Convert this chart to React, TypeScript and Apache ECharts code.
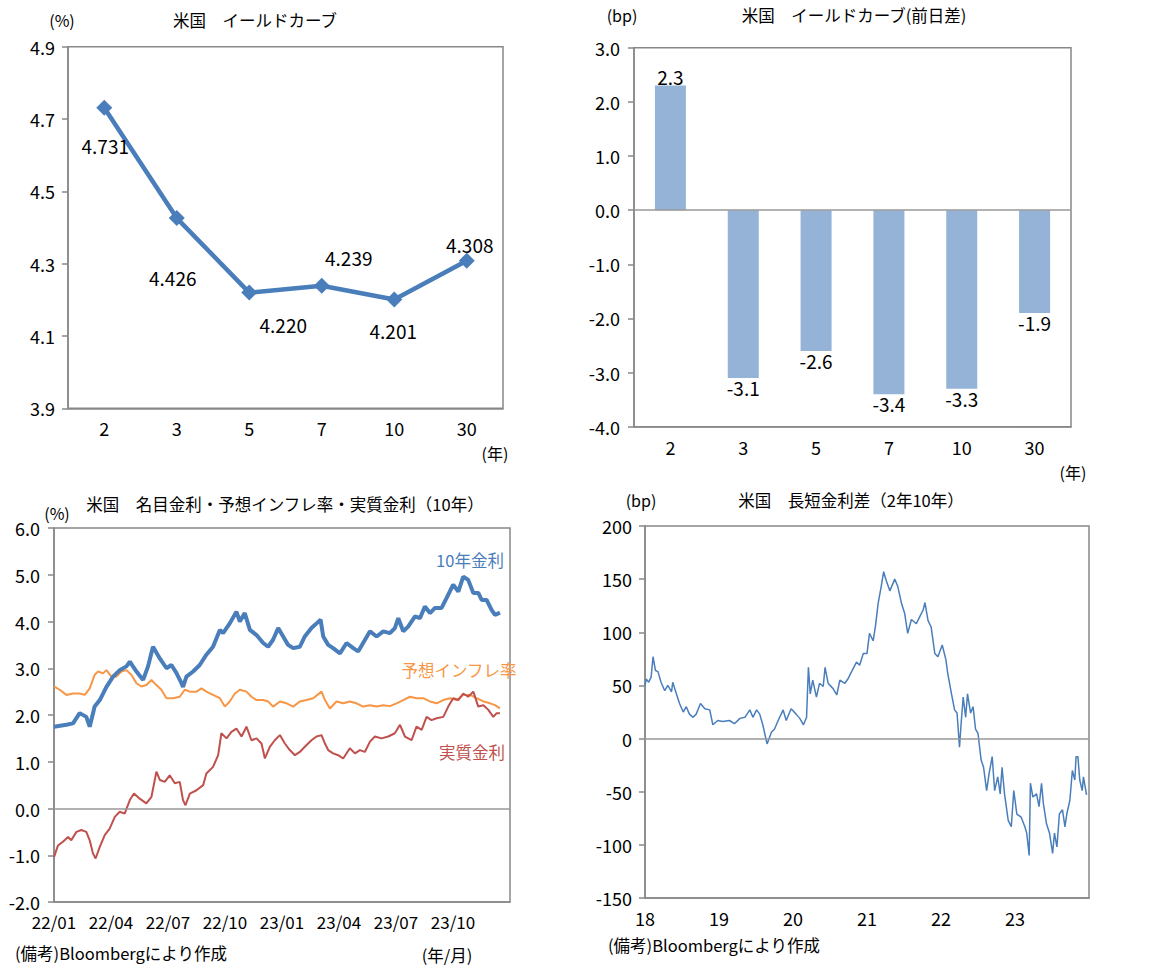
import React, { useEffect, useRef } from 'react';
import * as echarts from 'echarts';

// ---- Chart 1: US yield curve (%) ----
const tenors = ['2', '3', '5', '7', '10', '30'];
const yieldCurve = [4.731, 4.426, 4.22, 4.239, 4.201, 4.308];
const yieldCurveLabelOffsets = [[1, 38], [-4, 59], [34, 32], [27, -28], [-1, 31], [3, -16]];

// ---- Chart 2: day-on-day change (bp) ----
const yieldChange = [2.3, -3.1, -2.6, -3.4, -3.3, -1.9];

// ---- Chart 3: 10y nominal / breakeven / real (x = months since 2022/01) ----
const nominal10y = [
  [0, 1.75], [0.65, 1.79], [1.0, 1.82], [1.35, 2.04], [1.7, 1.96], [1.88, 1.75], [2.14, 2.18], [2.41, 2.32],
  [2.76, 2.6], [3.11, 2.82], [3.46, 2.96], [3.81, 3.04], [3.99, 3.14], [4.34, 2.93], [4.69, 2.75], [4.95, 3.04],
  [5.21, 3.46], [5.57, 3.21], [5.92, 3.0], [6.18, 3.07], [6.44, 2.9], [6.71, 2.68], [6.79, 2.6], [6.97, 2.82],
  [7.32, 2.93], [7.67, 3.07], [8.02, 3.29], [8.37, 3.46], [8.73, 3.82], [8.9, 3.75], [9.25, 3.96], [9.6, 4.21],
  [9.78, 4.0], [10.04, 4.18], [10.31, 3.82], [10.66, 3.71], [11.01, 3.54], [11.27, 3.46], [11.53, 3.61], [11.8, 3.86],
  [12.06, 3.68], [12.32, 3.5], [12.59, 3.43], [12.94, 3.46], [13.2, 3.68], [13.55, 3.86], [13.82, 3.96], [14.03, 4.04],
  [14.17, 3.68], [14.43, 3.5], [14.69, 3.43], [15.05, 3.32], [15.4, 3.54], [15.75, 3.43], [16.01, 3.36], [16.27, 3.54],
  [16.63, 3.79], [16.98, 3.68], [17.33, 3.79], [17.68, 3.75], [17.94, 3.86], [18.12, 4.07], [18.38, 3.79], [18.64, 3.89],
  [19.0, 4.11], [19.26, 4.07], [19.52, 4.32], [19.79, 4.18], [20.05, 4.29], [20.4, 4.29], [20.66, 4.5], [21.01, 4.79],
  [21.28, 4.64], [21.54, 4.96], [21.8, 4.89], [22.07, 4.61], [22.33, 4.61], [22.51, 4.46], [22.77, 4.46], [23.03, 4.25],
  [23.21, 4.14], [23.47, 4.19],
];
const breakeven10y = [
  [0, 2.61], [0.3, 2.54], [0.65, 2.43], [1.0, 2.46], [1.35, 2.46], [1.62, 2.43], [1.88, 2.57], [2.14, 2.86],
  [2.32, 2.93], [2.58, 2.89], [2.76, 2.96], [3.02, 2.82], [3.28, 2.82], [3.55, 2.93], [3.81, 2.96], [4.07, 2.86],
  [4.34, 2.68], [4.6, 2.61], [4.86, 2.64], [5.13, 2.75], [5.39, 2.64], [5.65, 2.54], [5.92, 2.36], [6.27, 2.36],
  [6.62, 2.39], [6.88, 2.54], [7.15, 2.5], [7.5, 2.5], [7.76, 2.57], [8.02, 2.5], [8.37, 2.43], [8.73, 2.36],
  [8.99, 2.18], [9.25, 2.29], [9.52, 2.46], [9.78, 2.54], [10.13, 2.5], [10.39, 2.39], [10.66, 2.32], [11.01, 2.32],
  [11.27, 2.29], [11.53, 2.18], [11.89, 2.29], [12.24, 2.25], [12.59, 2.18], [12.94, 2.29], [13.29, 2.32], [13.64, 2.36],
  [14.08, 2.5], [14.26, 2.32], [14.52, 2.14], [14.87, 2.29], [15.22, 2.25], [15.57, 2.29], [15.92, 2.25], [16.27, 2.18],
  [16.63, 2.21], [16.98, 2.18], [17.33, 2.21], [17.68, 2.19], [18.03, 2.25], [18.38, 2.32], [18.73, 2.39], [19.08, 2.36],
  [19.43, 2.36], [19.79, 2.29], [20.14, 2.25], [20.49, 2.32], [20.84, 2.36], [21.19, 2.32], [21.54, 2.43], [21.89, 2.43],
  [22.24, 2.36], [22.6, 2.29], [22.95, 2.25], [23.21, 2.21], [23.47, 2.14],
];
const real10y = [
  [0, -1.04], [0.21, -0.79], [0.47, -0.71], [0.74, -0.61], [0.91, -0.68], [1.18, -0.5], [1.44, -0.46], [1.7, -0.5],
  [1.88, -0.68], [2.05, -0.96], [2.19, -1.07], [2.41, -0.82], [2.67, -0.57], [2.93, -0.43], [3.2, -0.18], [3.46, -0.07],
  [3.72, -0.11], [3.99, 0.18], [4.21, 0.32], [4.51, 0.21], [4.86, 0.11], [5.13, 0.25], [5.39, 0.79], [5.57, 0.61],
  [5.83, 0.57], [6.09, 0.71], [6.36, 0.54], [6.62, 0.57], [6.79, 0.18], [6.92, 0.07], [7.15, 0.32], [7.5, 0.39],
  [7.85, 0.5], [8.02, 0.75], [8.37, 0.89], [8.64, 1.14], [8.81, 1.61], [9.08, 1.5], [9.34, 1.64], [9.6, 1.71],
  [9.87, 1.54], [10.13, 1.75], [10.39, 1.46], [10.66, 1.5], [10.92, 1.39], [11.1, 1.07], [11.36, 1.32], [11.62, 1.46],
  [11.89, 1.57], [12.15, 1.39], [12.41, 1.25], [12.68, 1.14], [12.94, 1.21], [13.2, 1.32], [13.55, 1.46], [13.82, 1.54],
  [14.08, 1.57], [14.26, 1.39], [14.43, 1.25], [14.69, 1.18], [14.96, 1.14], [15.22, 1.07], [15.57, 1.29], [15.84, 1.18],
  [16.1, 1.25], [16.36, 1.21], [16.63, 1.43], [16.89, 1.54], [17.24, 1.5], [17.59, 1.54], [17.94, 1.61], [18.21, 1.79],
  [18.47, 1.54], [18.82, 1.46], [19.08, 1.75], [19.35, 1.68], [19.61, 1.96], [19.87, 1.89], [20.14, 1.93], [20.49, 1.96],
  [20.75, 2.18], [21.01, 2.36], [21.28, 2.32], [21.54, 2.46], [21.8, 2.39], [22.07, 2.5], [22.33, 2.18], [22.6, 2.21],
  [22.86, 2.11], [23.12, 1.96], [23.3, 2.04], [23.47, 2.04],
];

// ---- Chart 4: 2s10s spread (bp), x = months since 2018/01 ----
const spread2s10s = [
  [0, 50], [0.2, 56], [0.6, 53], [1.0, 58], [1.3, 77], [1.7, 64], [2.1, 63], [2.6, 53], [3.2, 45], [3.7, 50],
  [4.3, 44], [4.5, 53], [5.1, 42], [5.6, 33], [6.2, 25], [6.7, 30], [7.2, 23], [7.8, 20], [8.3, 23], [9.0, 33],
  [9.7, 28], [10.5, 27], [11.0, 13], [11.8, 17], [12.6, 16], [13.7, 17], [14.5, 14], [15.4, 19], [16.2, 20], [17.0, 27],
  [17.5, 20], [18.1, 27], [18.6, 23], [19.1, 13], [19.6, 0], [19.8, -5], [20.5, 6], [21.0, 9], [21.6, 17], [22.4, 27],
  [22.9, 17], [23.7, 28], [24.5, 23], [25.1, 19], [25.7, 13], [26.2, 20], [26.5, 67], [26.8, 42], [27.2, 55], [27.8, 39],
  [28.3, 52], [28.9, 49], [29.2, 67], [29.7, 52], [30.5, 47], [31.1, 41], [31.6, 55], [32.4, 52], [32.9, 56], [33.5, 63],
  [34.3, 72], [34.8, 69], [35.4, 80], [36.0, 80], [36.4, 99], [37.0, 92], [37.4, 107], [37.8, 127], [38.3, 143], [38.7, 157],
  [39.1, 149], [39.7, 139], [40.5, 150], [41.0, 143], [41.6, 127], [42.1, 118], [42.6, 99], [43.2, 112], [44.0, 108], [44.5, 114],
  [45.1, 121], [45.4, 128], [45.9, 111], [46.4, 105], [47.0, 80], [47.5, 77], [48.2, 88], [48.8, 74], [49.1, 61], [49.7, 42],
  [50.2, 27], [50.6, 24], [51.0, -8], [51.3, 17], [51.6, 39], [52.0, 20], [52.3, 42], [52.8, 24], [53.2, 30], [53.6, 9],
  [54.0, 5], [54.5, -20], [54.9, -27], [55.4, -49], [55.8, -33], [56.3, -17], [56.7, -49], [57.2, -36], [57.6, -52], [57.9, -27],
  [58.3, -52], [58.9, -77], [59.4, -83], [59.8, -49], [60.3, -71], [61.0, -74], [61.6, -83], [61.9, -89], [62.3, -110], [62.5, -42],
  [62.9, -55], [63.5, -52], [63.9, -64], [64.3, -42], [64.6, -61], [65.1, -80], [65.6, -89], [66.1, -108], [66.4, -89], [66.8, -102],
  [67.2, -71], [67.7, -67], [68.1, -83], [68.4, -71], [68.9, -58], [69.3, -30], [69.7, -39], [69.9, -17], [70.2, -17], [70.5, -39],
  [70.9, -49], [71.1, -36], [71.6, -53],
];

const FONT = "'Noto Sans CJK JP', 'Noto Sans', sans-serif";
const BLUE = '#4A7EBB';
const ORANGE = '#F79646';
const RED = '#C0504D';
const BAR = '#95B3D7';
const AXIS = '#888888';

const axisLine = { show: true, onZero: false, lineStyle: { color: AXIS, width: 1.5 } };
const yTick = { show: true, inside: false, length: 6, lineStyle: { color: AXIS, width: 1.5 } };
const zeroLine = {
  silent: true,
  symbol: ['none', 'none'],
  label: { show: false },
  lineStyle: { color: '#999999', width: 1.5, type: 'solid' },
  emphasis: { disabled: true },
  data: [{ yAxis: 0 }],
};

function txt(text: string, x: number, y: number, fontSize = 16.5, fill = '#000', align = 'center') {
  return {
    type: 'text',
    x,
    y,
    silent: true,
    style: { text, fill, fontSize, fontFamily: FONT, align, verticalAlign: 'middle' },
  };
}

export default function App() {
  const ref = useRef<HTMLDivElement>(null);
  useEffect(() => {
    if (!ref.current) return;
    const chart = echarts.init(ref.current, null, { renderer: 'svg' });
    const gridBase = { show: true, borderColor: AXIS, borderWidth: 1.5, backgroundColor: 'transparent', containLabel: false };
    const option: any = {
      animation: false,
      textStyle: { fontFamily: FONT },
      grid: [
        { ...gridBase, left: 68, top: 46.7, width: 435, height: 361.6 },
        { ...gridBase, left: 634, top: 47.7, width: 437, height: 379 },
        { ...gridBase, left: 54, top: 528, width: 456, height: 374 },
        { ...gridBase, left: 645, top: 526, width: 444, height: 372 },
      ],
      xAxis: [
        {
          gridIndex: 0, type: 'category', data: tenors, boundaryGap: true,
          axisLine, axisTick: { show: false },
          axisLabel: { fontSize: 18, color: '#000', margin: 11, fontFamily: FONT },
        },
        {
          gridIndex: 1, type: 'category', data: tenors, boundaryGap: true,
          axisLine, axisTick: { show: false },
          axisLabel: { fontSize: 18, color: '#000', margin: 11, fontFamily: FONT },
        },
        {
          gridIndex: 2, type: 'value', min: 0, max: 24, interval: 3,
          axisLine, axisTick: { show: false }, splitLine: { show: false },
          axisLabel: {
            fontSize: 17, color: '#000', margin: 11, fontFamily: FONT, showMaxLabel: false,
            formatter: (v: number) => {
              const yy = 22 + Math.floor(v / 12);
              const mm = (v % 12) + 1;
              return `${yy}/${mm < 10 ? '0' + mm : mm}`;
            },
          },
        },
        {
          gridIndex: 3, type: 'value', min: 0, max: 72, interval: 12,
          axisLine, axisTick: { show: false }, splitLine: { show: false },
          axisLabel: {
            fontSize: 18, color: '#000', margin: 11, fontFamily: FONT, showMaxLabel: false,
            formatter: (v: number) => String(18 + v / 12),
          },
        },
      ],
      yAxis: [
        {
          gridIndex: 0, type: 'value', min: 3.9, max: 4.9, interval: 0.2,
          axisLine, axisTick: yTick, splitLine: { show: false },
          axisLabel: { fontSize: 18, color: '#000', margin: 13, fontFamily: FONT, formatter: (v: number) => v.toFixed(1) },
        },
        {
          gridIndex: 1, type: 'value', min: -4, max: 3, interval: 1,
          axisLine, axisTick: yTick, splitLine: { show: false },
          axisLabel: { fontSize: 18, color: '#000', margin: 14, fontFamily: FONT, formatter: (v: number) => v.toFixed(1) },
        },
        {
          gridIndex: 2, type: 'value', min: -2, max: 6, interval: 1,
          axisLine, axisTick: yTick, splitLine: { show: false },
          axisLabel: { fontSize: 18, color: '#000', margin: 14, fontFamily: FONT, formatter: (v: number) => v.toFixed(1) },
        },
        {
          gridIndex: 3, type: 'value', min: -150, max: 200, interval: 50,
          axisLine, axisTick: yTick, splitLine: { show: false },
          axisLabel: { fontSize: 18, color: '#000', margin: 13, fontFamily: FONT },
        },
      ],
      series: [
        {
          type: 'line', xAxisIndex: 0, yAxisIndex: 0,
          data: yieldCurve.map((v, i) => ({ value: v, label: { offset: yieldCurveLabelOffsets[i] } })),
          symbol: 'diamond', symbolSize: 16,
          lineStyle: { color: BLUE, width: 4.5 },
          itemStyle: { color: BLUE },
          label: {
            show: true, position: 'inside', fontSize: 19, color: '#000', fontFamily: FONT,
            formatter: (p: any) => Number(p.value).toFixed(3),
          },
          z: 3,
        },
        {
          type: 'bar', xAxisIndex: 1, yAxisIndex: 1,
          data: yieldChange, barWidth: 31,
          itemStyle: { color: BAR },
          label: {
            show: true, position: 'outside', distance: 0, fontSize: 19, color: '#000', fontFamily: FONT,
            formatter: (p: any) => Number(p.value).toFixed(1),
          },
          markLine: zeroLine,
        },
        {
          type: 'line', xAxisIndex: 2, yAxisIndex: 2, data: breakeven10y, showSymbol: false,
          lineStyle: { color: ORANGE, width: 2 }, itemStyle: { color: ORANGE },
          markLine: zeroLine, z: 2,
        },
        {
          type: 'line', xAxisIndex: 2, yAxisIndex: 2, data: real10y, showSymbol: false,
          lineStyle: { color: RED, width: 2 }, itemStyle: { color: RED }, z: 3,
        },
        {
          type: 'line', xAxisIndex: 2, yAxisIndex: 2, data: nominal10y, showSymbol: false,
          lineStyle: { color: BLUE, width: 4 }, itemStyle: { color: BLUE }, z: 4,
        },
        {
          type: 'line', xAxisIndex: 3, yAxisIndex: 3, data: spread2s10s, showSymbol: false,
          lineStyle: { color: BLUE, width: 1.5 }, itemStyle: { color: BLUE },
          markLine: zeroLine,
        },
      ],
      graphic: [
        // chart 1
        txt('米国　イールドカーブ', 255, 20),
        txt('(%)', 62, 20, 16),
        txt('(年)', 495, 453, 16),
        // chart 2
        txt('(bp)', 622, 15, 16),
        txt('米国　イールドカーブ(前日差)', 854, 15),
        txt('(年)', 1073, 472, 16),
        // chart 3
        txt('米国　名目金利・予想インフレ率・実質金利（10年）', 285, 504),
        txt('(%)', 57, 513, 16),
        txt('10年金利', 470, 560, 16.5, BLUE),
        txt('予想インフレ率', 459, 670, 16.5, ORANGE),
        txt('実質金利', 472, 752, 16.5, RED),
        txt('(備考)Bloombergにより作成', 15, 953, 16.5, '#000', 'left'),
        txt('(年/月)', 447, 955, 16.5),
        // chart 4
        txt('(bp)', 641, 500, 16),
        txt('米国　長短金利差（2年10年）', 851, 500),
        txt('(備考)Bloombergにより作成', 608, 945, 16.5, '#000', 'left'),
      ],
    };
    chart.setOption(option);
    return () => chart.dispose();
  }, []);
  return (
    <div
      ref={ref}
      style={{ position: 'absolute', left: 0, top: 0, width: 1162, height: 971, background: '#fff' }}
    />
  );
}
